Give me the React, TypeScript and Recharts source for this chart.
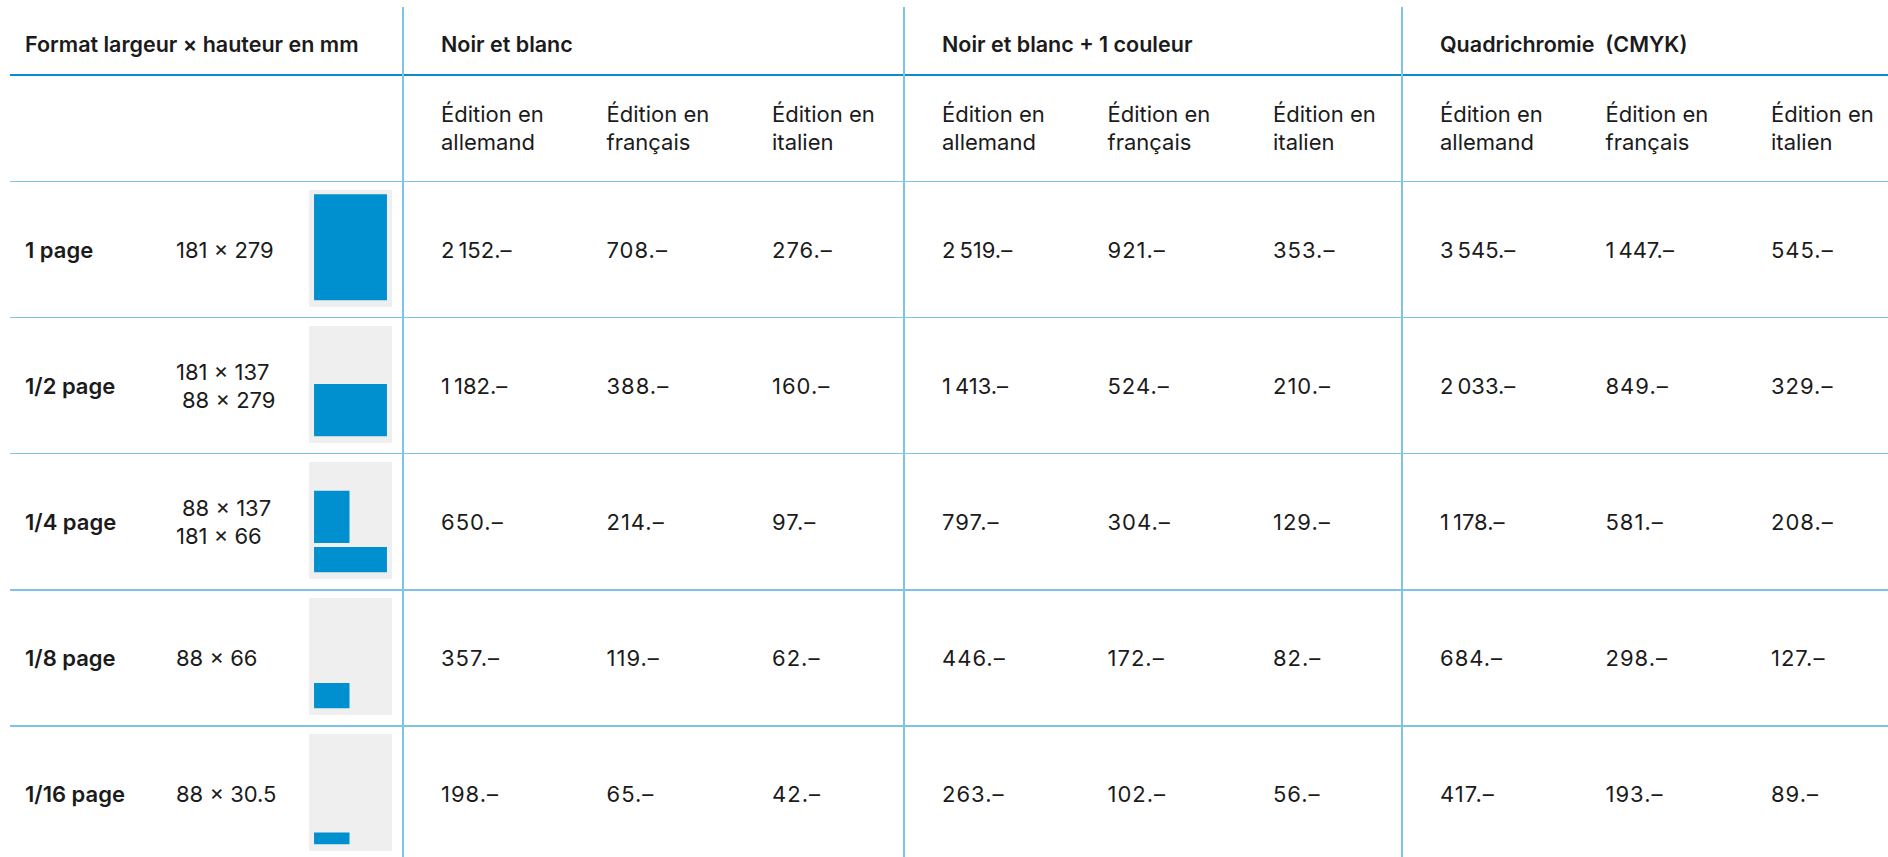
import { ComposedChart, XAxis, YAxis, ReferenceArea } from 'recharts'

const formats = ['1 page', '1/2 page', '1/4 page', '1/8 page', '1/16 page']
// largeur x hauteur en mm, tels qu'imprimés
const formatDims = [
  [[181, 279]],
  [[181, 137], [88, 279]],
  [[88, 137], [181, 66]],
  [[88, 66]],
  [[88, 30.5]]
]
// surfaces dessinées dans la vignette (du haut vers le bas)
const thumbAreas = [
  [[181, 279]],
  [[181, 137]],
  [[88, 137], [181, 66]],
  [[88, 66]],
  [[88, 30.5]]
]
const groups = ['Noir et blanc', 'Noir et blanc + 1 couleur', 'Quadrichromie  (CMYK)']
const editions = [['Édition en', 'allemand'], ['Édition en', 'français'], ['Édition en', 'italien']]

const prixNoirBlanc = [
  [2152, 708, 276],
  [1182, 388, 160],
  [650, 214, 97],
  [357, 119, 62],
  [198, 65, 42]
]
const prixUneCouleur = [
  [2519, 921, 353],
  [1413, 524, 210],
  [797, 304, 129],
  [446, 172, 82],
  [263, 102, 56]
]
const prixQuadri = [
  [3545, 1447, 545],
  [2033, 849, 329],
  [1178, 581, 208],
  [684, 298, 127],
  [417, 193, 89]
]
const prices = [prixNoirBlanc, prixUneCouleur, prixQuadri]

const PAGE_W = 206
const PAGE_H = 308
const MARGIN_X = 12.5
const MARGIN_BOTTOM = 18
const GAP = 11

const ROW_TOP = 181.5
const ROW_H = 136.1
const GROUP_X = [402, 903, 1401]
const COL_W = 165.5
const PAD = 39

const ink = '#1b1b1b'
const blue = '#0090cf'
const lineBlue = '#7cc4e8'

const fmt = (v: number) => {
  const s = String(v)
  return (s.length > 3 ? s.slice(0, s.length - 3) + '\u202f' + s.slice(-3) : s) + '.–'
}

function Thumb({ areas }: { areas: number[][] }) {
  // empile les surfaces depuis le bas de la page
  let y = MARGIN_BOTTOM
  const rects = [...areas].reverse().map(([w, h]) => {
    const r = { x1: MARGIN_X, x2: MARGIN_X + w, y1: y, y2: y + h }
    y += h + GAP
    return r
  })
  return (
    <ComposedChart width={83} height={117} data={rects} margin={{ top: 0, right: 0, bottom: 0, left: 0 }}>
      <XAxis type='number' dataKey='x1' domain={[0, PAGE_W]} hide />
      <YAxis type='number' dataKey='y1' domain={[0, PAGE_H]} hide />
      <ReferenceArea x1={0} x2={PAGE_W} y1={0} y2={PAGE_H} fill='#efefef' fillOpacity={1} stroke='none' ifOverflow='visible' />
      {rects.map((r, i) => (
        <ReferenceArea key={i} x1={r.x1} x2={r.x2} y1={r.y1} y2={r.y2} fill={blue} fillOpacity={1} stroke='none' ifOverflow='visible' />
      ))}
    </ComposedChart>
  )
}

const abs = (s: object) => ({ position: 'absolute' as const, ...s })

export default function App() {
  return (
    <div style={abs({ left: 0, top: 0, width: 1888, height: 857, overflow: 'hidden', background: '#fff', fontFamily: 'Inter, "Noto Sans", sans-serif', fontSize: 22, color: ink })}>
      {/* en-tête */}
      <div style={abs({ left: 25, top: 30, lineHeight: '28px', fontSize: 21.5, fontWeight: 600, whiteSpace: 'pre' })}>Format largeur × hauteur en mm</div>
      {groups.map((g, gi) => (
        <div key={g} style={abs({ left: GROUP_X[gi] + PAD, top: 30, lineHeight: '28px', fontSize: 21.5, fontWeight: 600, whiteSpace: 'pre' })}>{g}</div>
      ))}
      {groups.map((g, gi) => editions.map((e, ei) => (
        <div key={g + ei} style={abs({ left: GROUP_X[gi] + PAD + ei * COL_W, top: 100, lineHeight: '28px' })}>
          {e[0]}<br />{e[1]}
        </div>
      )))}

      {/* lignes */}
      <div style={abs({ left: 10, right: 0, top: 73.5, height: 2, background: '#0a8ccc' })} />
      {formats.map((f, i) => (
        <div key={f} style={abs({ left: 10, right: 0, top: ROW_TOP + i * ROW_H - 0.75, height: 1.5, background: lineBlue })} />
      ))}
      {GROUP_X.map(x => (
        <div key={x} style={abs({ left: x, top: 7, bottom: 0, width: 1.5, background: lineBlue })} />
      ))}

      {/* corps */}
      {formats.map((f, ri) => {
        const top = ROW_TOP + ri * ROW_H
        const dims = formatDims[ri]
        const rowStyle = { top, height: ROW_H, display: 'flex', alignItems: 'center' }
        return (
          <div key={f}>
            <div style={abs({ left: 25, fontWeight: 600, ...rowStyle })}>{f}</div>
            <div style={abs({ left: 176, ...rowStyle })}>
              <div style={{ lineHeight: '28px' }}>
                {dims.map(([w, h], k) => (
                  <div key={k} style={{ paddingLeft: dims.length > 1 && w < 100 ? 6 : 0 }}>{w} × {h}</div>
                ))}
              </div>
            </div>
            <div style={abs({ left: 309, top: top + 8.5 })}>
              <Thumb areas={thumbAreas[ri]} />
            </div>
            {prices.map((p, gi) => p[ri].map((v, ci) => (
              <div key={gi + '-' + ci} style={abs({ left: GROUP_X[gi] + PAD + ci * COL_W, letterSpacing: 1, ...rowStyle })}>{fmt(v)}</div>
            )))}
          </div>
        )
      })}
    </div>
  )
}
